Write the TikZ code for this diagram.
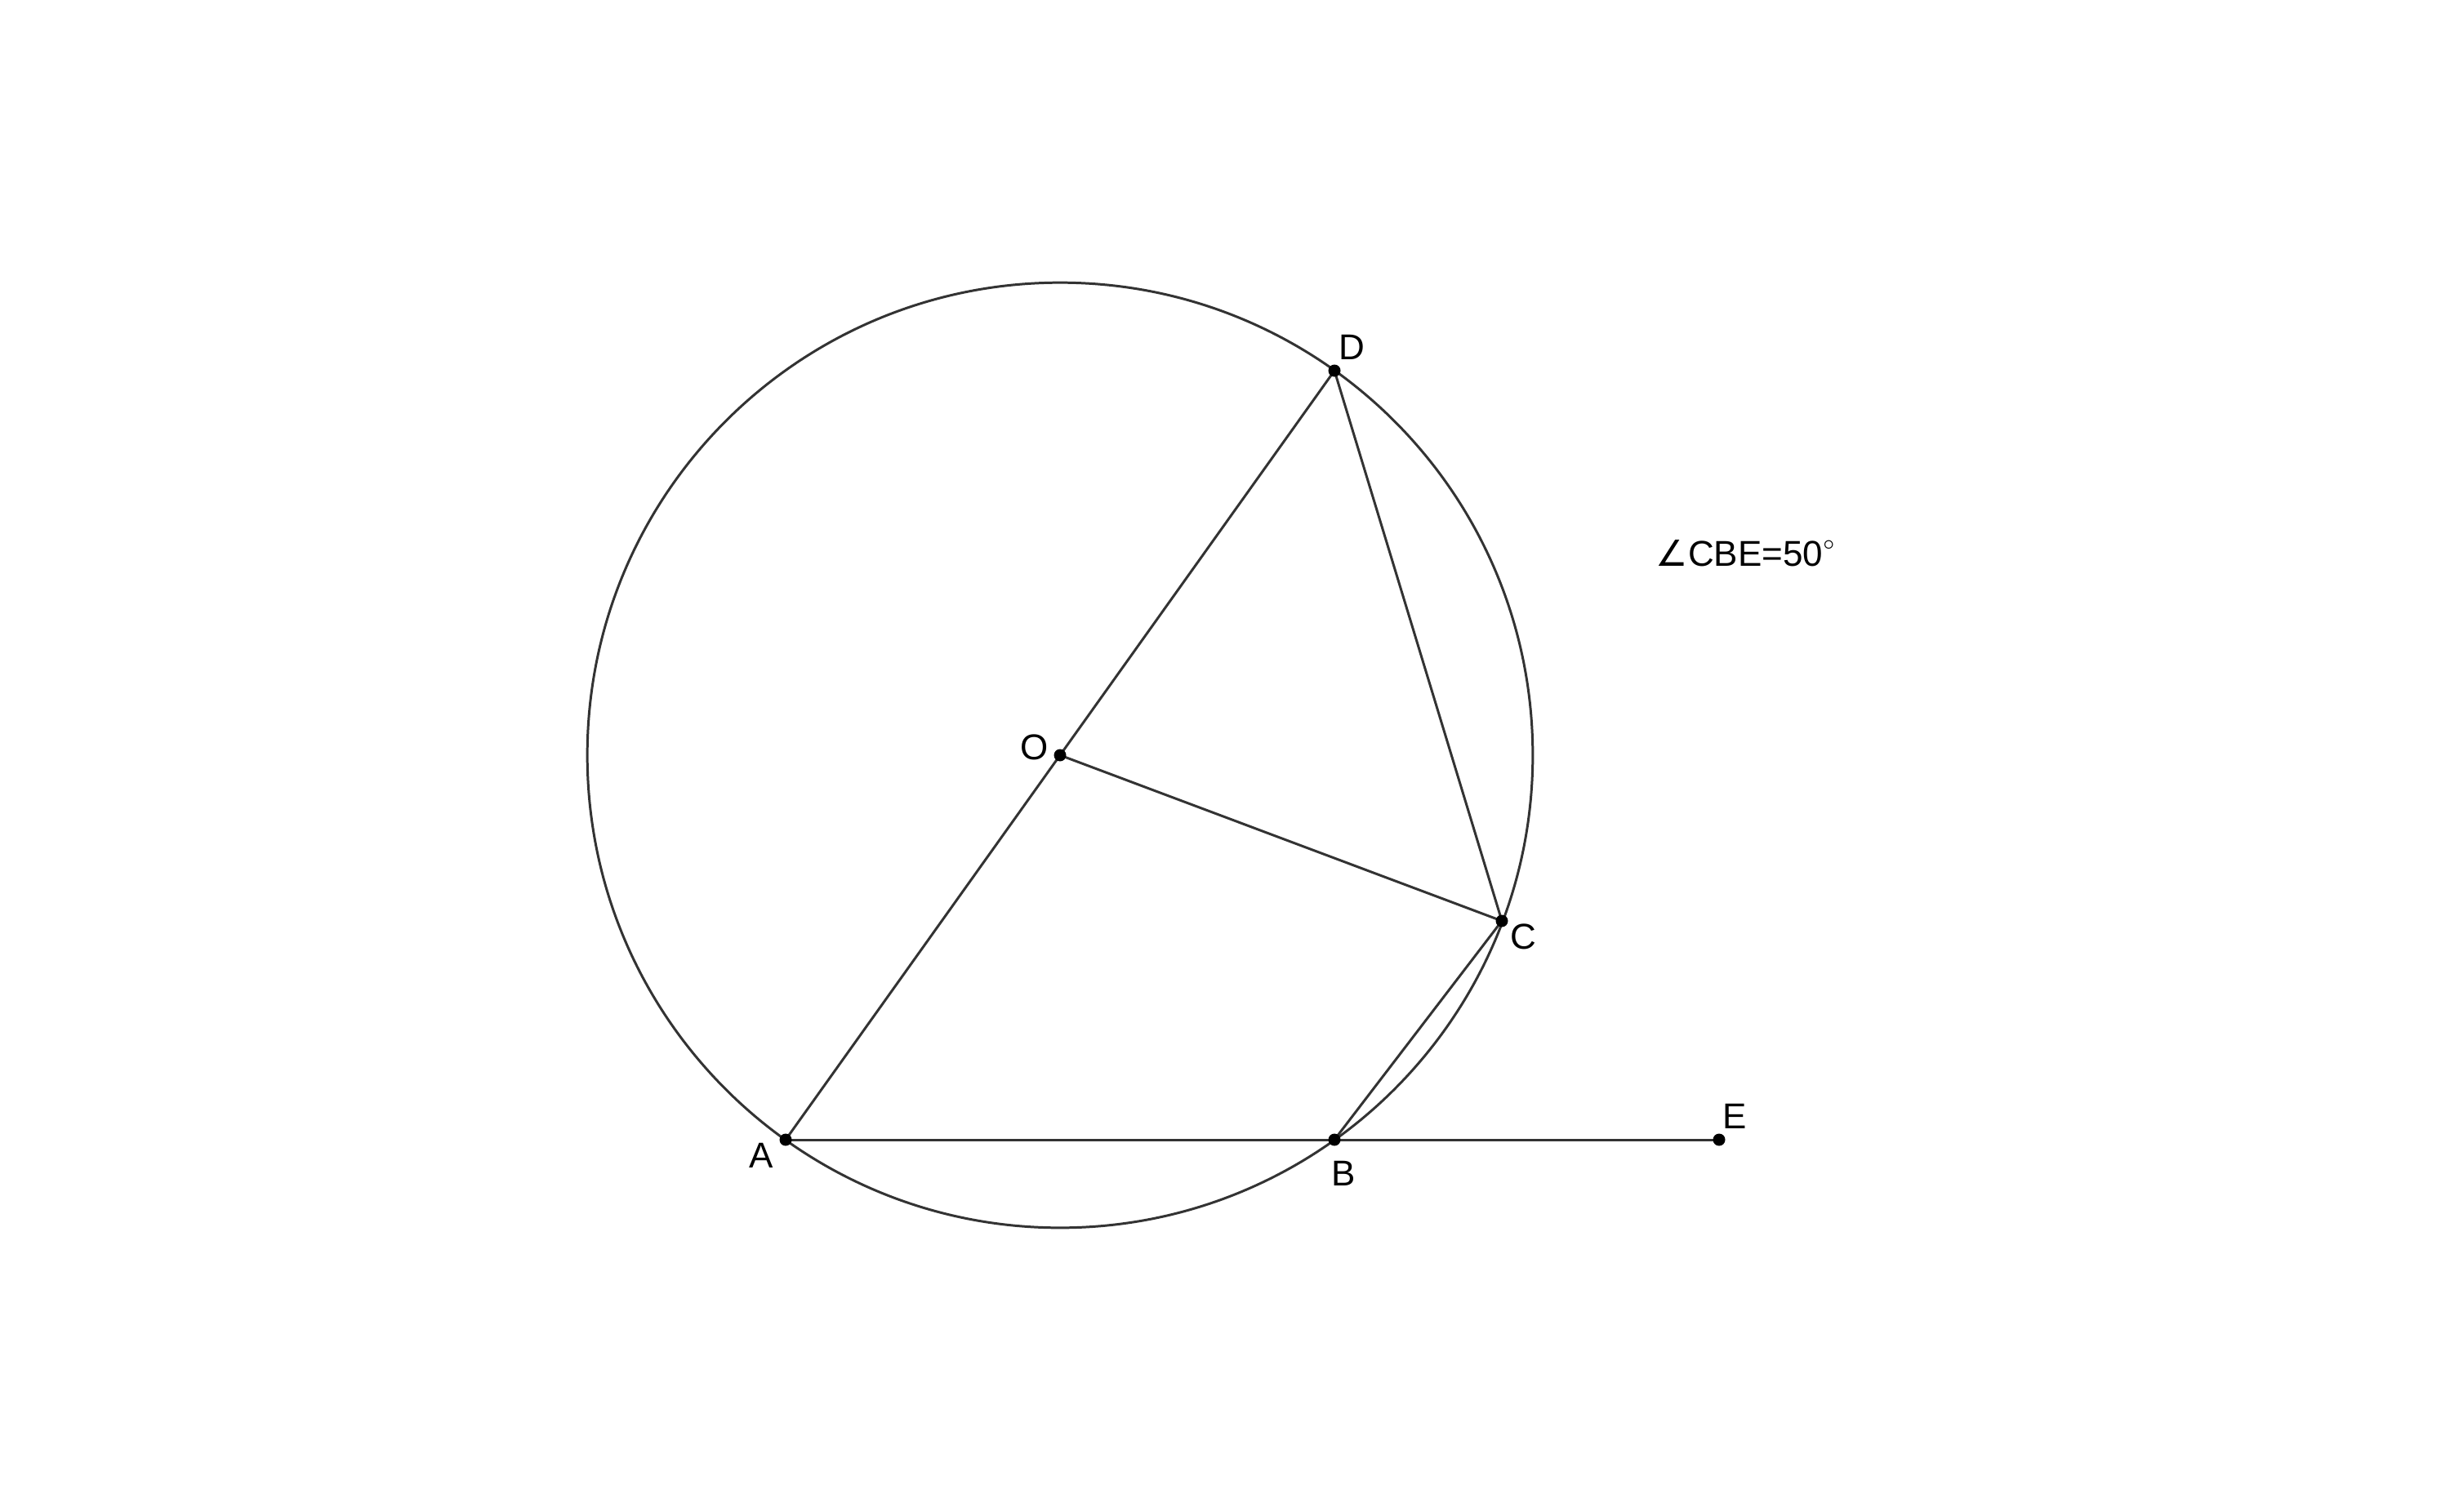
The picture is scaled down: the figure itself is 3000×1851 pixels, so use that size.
\documentclass[tikz,border=0pt]{standalone}
\usepackage{fontspec}
\setmainfont{Liberation Sans}
\newfontfamily\symfont{DejaVu Sans}
\usetikzlibrary{positioning}
\tikzset{
    %Define style for the segments
    seg/.style={
           draw=black!80,
           line width=0.85pt,
           line cap=round},
    %Define style for the points
    pt/.style={
           circle,
           fill=black,
           inner sep=0pt,
           minimum size=0.15cm},
    %Define style for the letters
    lbl/.style={
           inner sep=0pt,
           font=\fontsize{12.5}{15}\selectfont}
}
\begin{document}
\begin{tikzpicture}[x=0.01cm,y=-0.01cm]
    \useasboundingbox (0,0) rectangle (3000,1851);
    \coordinate (O) at (1298,925);
    \coordinate (A) at (962,1396);
    \coordinate (B) at (1634,1396);
    \coordinate (C) at (1839,1128);
    \coordinate (D) at (1634,454);
    \coordinate (E) at (2105,1396);
    % circle
    \draw[seg] (O) circle [radius=5.785cm];
    % segments
    \draw[seg] (A) -- (D);
    \draw[seg] (O) -- (C);
    \draw[seg] (D) -- (C) -- (B);
    \draw[seg] (A) -- (E);
    % points
    \foreach \p in {O,A,B,C,D,E}
        \node[pt] (dot\p) at (\p) {};
    % letters
    \node[lbl] (labO) at (1267,915) {O};
    \node[lbl] (labA) at (932,1415) {A};
    \node[lbl] (labB) at (1645,1437) {B};
    \node[lbl] (labC) at (1865,1147) {C};
    \node[lbl] (labD) at (1655,425) {D};
    \node[lbl] (labE) at (2124,1367) {E};
    \node[lbl,anchor=base west] (angle) at (2027,693)
          {{\symfont ∠}CBE=50\raisebox{0.45em}{\fontsize{7}{8}\selectfont$\circ$}};
\end{tikzpicture}
\end{document}
